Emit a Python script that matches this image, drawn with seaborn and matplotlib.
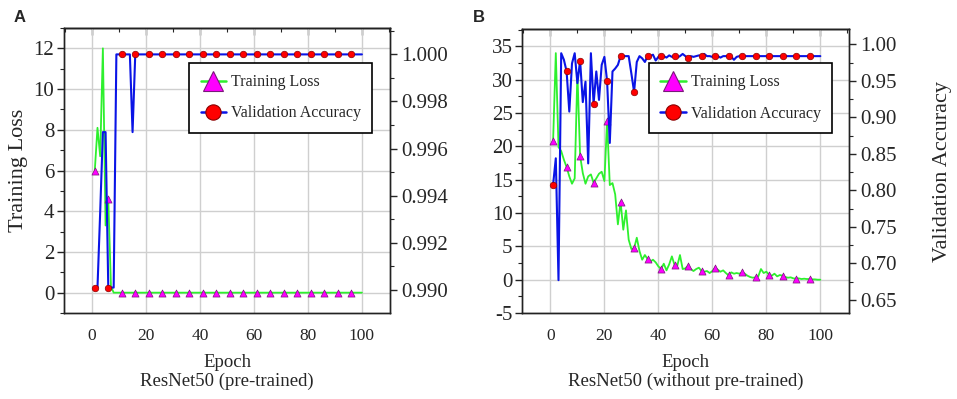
import numpy as np
import pandas as pd
import matplotlib
matplotlib.use('Agg')
import matplotlib.pyplot as plt
from matplotlib.lines import Line2D
from matplotlib.ticker import MultipleLocator
import seaborn as sns

# ── Data ─────────────────────────────────────────────────────────────────────
epochs = list(range(1, 101))

loss_a = [6.0, 8.1, 6.7, 12.0, 3.3, 4.6, 0.3, 0.0, 0.0, 0.0,
          0.0, 0.0, 0.0, 0.0, 0.0, 0.0, 0.0, 0.0, 0.0, 0.0,
          0.0, 0.0, 0.0, 0.0, 0.0, 0.0, 0.0, 0.0, 0.0, 0.0,
          0.0, 0.0, 0.0, 0.0, 0.0, 0.0, 0.0, 0.0, 0.0, 0.0,
          0.0, 0.0, 0.0, 0.0, 0.0, 0.0, 0.0, 0.0, 0.0, 0.0,
          0.0, 0.0, 0.0, 0.0, 0.0, 0.0, 0.0, 0.0, 0.0, 0.0,
          0.0, 0.0, 0.0, 0.0, 0.0, 0.0, 0.0, 0.0, 0.0, 0.0,
          0.0, 0.0, 0.0, 0.0, 0.0, 0.0, 0.0, 0.0, 0.0, 0.0,
          0.0, 0.0, 0.0, 0.0, 0.0, 0.0, 0.0, 0.0, 0.0, 0.0,
          0.0, 0.0, 0.0, 0.0, 0.0, 0.0, 0.0, 0.0, 0.0, 0.0]

acc_a = [0.9901, 0.9901, 0.9933, 0.9967, 0.9967, 0.9901, 0.9901, 0.9901, 1.0, 1.0,
         1.0, 1.0, 1.0, 1.0, 0.9967, 1.0, 1.0, 1.0, 1.0, 1.0,
         1.0, 1.0, 1.0, 1.0, 1.0, 1.0, 1.0, 1.0, 1.0, 1.0,
         1.0, 1.0, 1.0, 1.0, 1.0, 1.0, 1.0, 1.0, 1.0, 1.0,
         1.0, 1.0, 1.0, 1.0, 1.0, 1.0, 1.0, 1.0, 1.0, 1.0,
         1.0, 1.0, 1.0, 1.0, 1.0, 1.0, 1.0, 1.0, 1.0, 1.0,
         1.0, 1.0, 1.0, 1.0, 1.0, 1.0, 1.0, 1.0, 1.0, 1.0,
         1.0, 1.0, 1.0, 1.0, 1.0, 1.0, 1.0, 1.0, 1.0, 1.0,
         1.0, 1.0, 1.0, 1.0, 1.0, 1.0, 1.0, 1.0, 1.0, 1.0,
         1.0, 1.0, 1.0, 1.0, 1.0, 1.0, 1.0, 1.0, 1.0, 1.0]

loss_b = [20.85, 34.0, 19.9, 19.3, 18.0, 16.9, 15.5, 14.4, 15.2, 31.0,
          18.6, 16.0, 14.4, 15.5, 15.8, 14.55, 15.2, 15.9, 16.2, 14.8,
          23.8, 14.2, 14.5, 12.8, 8.3, 11.7, 7.5, 10.4, 6.0, 4.6,
          4.7, 6.3, 4.3, 3.0, 3.7, 3.1, 2.7, 3.0, 2.6, 2.0,
          1.6, 2.4, 1.4, 2.3, 3.5, 2.2, 2.1, 3.7, 1.6, 1.7,
          2.1, 1.6, 1.3, 1.6, 1.8, 1.3, 1.2, 1.3, 1.0, 1.3,
          1.8, 1.5, 1.2, 1.4, 1.0, 0.65, 1.1, 0.9, 1.0, 0.9,
          1.1, 0.9, 0.6, 0.4, 0.3, 0.35, 0.5, 1.6, 1.0, 1.2,
          0.75, 0.6, 0.9, 0.5, 0.7, 0.6, 0.4, 0.3, 0.35, 0.2,
          0.15, 0.2, 0.1, 0.15, 0.1, 0.1, 0.05, 0.05, 0.0, 0.0]

acc_b = [0.808, 0.844, 0.677, 0.988, 0.979, 0.963, 0.908, 0.974, 0.988, 0.947,
         0.978, 0.921, 0.949, 0.837, 0.988, 0.919, 0.963, 0.924, 0.972, 0.983,
         0.950, 0.865, 0.963, 0.967, 0.972, 0.984, 0.984, 0.984, 0.984, 0.960,
         0.935, 0.976, 0.984, 0.981, 0.976, 0.984, 0.984, 0.986, 0.978, 0.983,
         0.984, 0.984, 0.982, 0.985, 0.983, 0.984, 0.982, 0.984, 0.987, 0.984,
         0.981, 0.984, 0.983, 0.984, 0.985, 0.984, 0.987, 0.984, 0.984, 0.983,
         0.984, 0.984, 0.982, 0.984, 0.984, 0.984, 0.983, 0.979, 0.983, 0.984,
         0.984, 0.984, 0.984, 0.984, 0.984, 0.984, 0.984, 0.984, 0.984, 0.984,
         0.984, 0.984, 0.984, 0.984, 0.984, 0.984, 0.984, 0.984, 0.984, 0.984,
         0.984, 0.984, 0.984, 0.984, 0.984, 0.984, 0.984, 0.984, 0.984, 0.984]

marker_every = 5
labels = ['Training Loss', 'Validation Accuracy']
subtitles = ['ResNet50 (pre-trained)', 'ResNet50 (without pre-trained)']

GREEN, BLUE = '#2ef02e', '#0a14e6'
MAGENTA, RED = '#ff00ff', '#ff0000'

sns.set_style('white')
plt.rcParams['font.family'] = ['Liberation Serif', 'DejaVu Serif']
plt.rcParams['axes.linewidth'] = 1.0
plt.rcParams['axes.unicode_minus'] = False

fig = plt.figure(figsize=(9.57, 3.99), dpi=100)
ax_a = fig.add_axes([0.0669, 0.2155, 0.3406, 0.7143])
ax_b = fig.add_axes([0.5458, 0.2155, 0.3413, 0.7115])


def style_axes(ax, ax2, xlim, ylim, ylim2, ymaj, ymin, y2maj, y2min, y2fmt):
    ax.set_xlim(*xlim)
    ax.set_ylim(*ylim)
    ax2.set_ylim(*ylim2)
    ax.xaxis.set_major_locator(MultipleLocator(20))
    ax.xaxis.set_minor_locator(MultipleLocator(10))
    ax.yaxis.set_major_locator(MultipleLocator(ymaj))
    ax.yaxis.set_minor_locator(MultipleLocator(ymin))
    ax2.yaxis.set_major_locator(MultipleLocator(y2maj))
    ax2.yaxis.set_minor_locator(MultipleLocator(y2min))
    ax2.yaxis.set_major_formatter(y2fmt)
    ax.grid(True, which='major', color='#cfcfcf', lw=1.0)
    ax.set_axisbelow(True)
    ax.tick_params(axis='both', which='major', direction='out', length=5,
                   width=1.0, color='#222222', pad=2)
    ax.tick_params(axis='both', which='minor', direction='out', length=3,
                   width=0.8, color='#222222')
    ax.tick_params(axis='x', labelsize=12.5, pad=6)
    ax.tick_params(axis='y', labelsize=15)
    ax2.tick_params(axis='y', which='major', direction='out', length=5,
                    width=1.0, labelsize=15, pad=3)
    ax2.tick_params(axis='y', which='minor', direction='out', length=3, width=0.8)
    top = ax.secondary_xaxis('top')
    top.xaxis.set_major_locator(MultipleLocator(20))
    top.xaxis.set_minor_locator(MultipleLocator(10))
    top.tick_params(which='major', direction='in', length=5, width=1.0, labeltop=False)
    top.tick_params(which='minor', direction='in', length=3, width=0.8)
    for sp in list(ax.spines.values()) + list(ax2.spines.values()) + list(top.spines.values()):
        sp.set_color('#222222')


def draw_panel(ax, loss, acc, subtitle, legend_anchor):
    df = pd.DataFrame({'epoch': epochs, 'loss': loss, 'acc': acc})
    marks = df[(df['epoch'] - 1) % marker_every == 0]
    ax2 = ax.twinx()
    sns.lineplot(data=df, x='epoch', y='loss', ax=ax, color=GREEN, lw=1.3)
    sns.scatterplot(data=marks, x='epoch', y='loss', ax=ax, marker='^', s=26,
                    color=MAGENTA, edgecolor='#7a1a7a', linewidth=0.5, zorder=3)
    sns.lineplot(data=df, x='epoch', y='acc', ax=ax2, color=BLUE, lw=1.5)
    sns.scatterplot(data=marks, x='epoch', y='acc', ax=ax2, marker='o', s=22,
                    color=RED, edgecolor='#8a0000', linewidth=0.5, zorder=3)
    ax.set_xlabel('Epoch\n' + subtitle, fontsize=13.5, labelpad=7, linespacing=1.15)
    ax.set_ylabel('')
    ax2.set_ylabel('')
    handles = [
        Line2D([0], [0], color=GREEN, lw=1.8, marker='^', markersize=14,
               markerfacecolor=MAGENTA, markeredgecolor='#7a1a7a', markeredgewidth=0.8),
        Line2D([0], [0], color=BLUE, lw=1.8, marker='o', markersize=11,
               markerfacecolor=RED, markeredgecolor='#8a0000', markeredgewidth=0.8),
    ]
    leg = ax2.legend(handles, labels, loc='upper right', bbox_to_anchor=legend_anchor,
                     fontsize=11.5, frameon=True, fancybox=False, framealpha=1,
                     edgecolor='black', handlelength=1.6, handletextpad=0.3,
                     labelspacing=0.95, borderpad=0.7, borderaxespad=0)
    leg.get_frame().set_linewidth(1.2)
    return ax2


ax2_a = draw_panel(ax_a, loss_a, acc_a, subtitles[0], (0.945, 0.877))
style_axes(ax_a, ax2_a, (-10.4, 110.4), (-1, 13), (0.98902, 1.00112),
           2, 1, 0.002, 0.001, '{x:.3f}')
ax_a.set_ylabel('Training Loss', fontsize=16, labelpad=4)

ax2_b = draw_panel(ax_b, loss_b, acc_b, subtitles[1], (0.948, 0.880))
style_axes(ax_b, ax2_b, (-10.4, 110.6), (-5, 37.6), (0.632, 1.021),
           5, 2.5, 0.05, 0.025, '{x:.2f}')
ax2_b.set_ylabel('Validation Accuracy', fontsize=16, labelpad=26)

fig.text(0.014, 0.955, 'A', fontsize=12, fontweight='bold',
         family=['Liberation Sans', 'DejaVu Sans'], va='center')
fig.text(0.494, 0.955, 'B', fontsize=12, fontweight='bold',
         family=['Liberation Sans', 'DejaVu Sans'], va='center')

fig.savefig('out.png', dpi=100)
